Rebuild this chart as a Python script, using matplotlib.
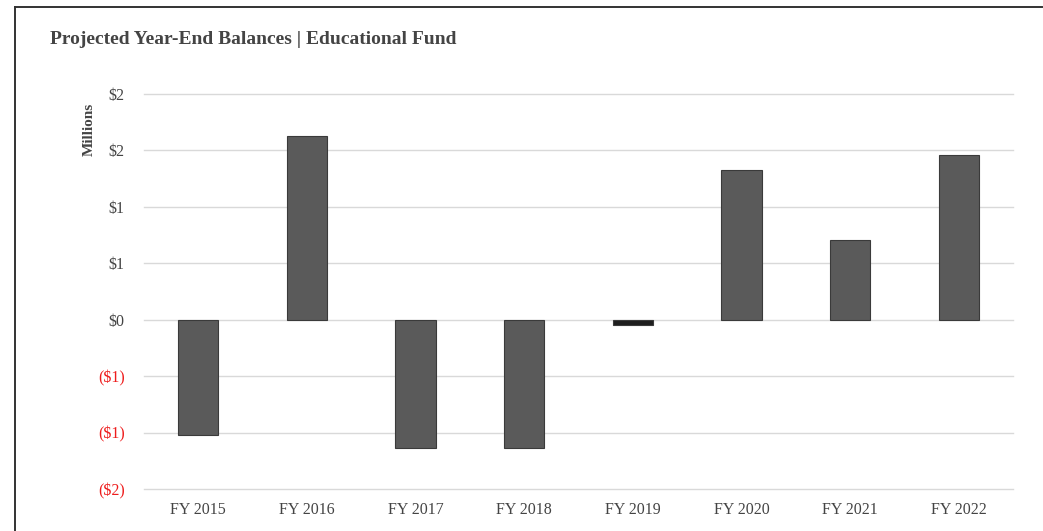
import matplotlib
matplotlib.use("Agg")
import matplotlib.pyplot as plt
from matplotlib.ticker import FuncFormatter, MultipleLocator
from matplotlib.lines import Line2D

# Projected year-end balances, in millions of dollars
fiscal_years = ["FY 2015", "FY 2016", "FY 2017", "FY 2018",
                "FY 2019", "FY 2020", "FY 2021", "FY 2022"]
balances = [-1.02, 1.63, -1.14, -1.14, -0.05, 1.33, 0.71, 1.46]
bar_colors = ["#5a5a5a", "#5a5a5a", "#5a5a5a", "#5a5a5a",
              "#1e1e1e", "#5a5a5a", "#5a5a5a", "#5a5a5a"]

plt.rcParams["font.family"] = ["Liberation Serif", "DejaVu Serif"]

fig = plt.figure(figsize=(10.43, 5.31), dpi=100)
fig.patch.set_facecolor("white")

# Outer frame (left and top edges)
W, H = 1043, 531
fig.add_artist(Line2D([15 / W, 15 / W], [0, 1 - 7 / H], transform=fig.transFigure,
                      color="#333333", lw=1.4))
fig.add_artist(Line2D([15 / W, 1042 / W], [1 - 7 / H, 1 - 7 / H], transform=fig.transFigure,
                      color="#333333", lw=1.4))

ax = fig.add_axes([144 / W, 1 - 489 / H, (1013 - 144) / W, (489 - 94) / H])

x = range(len(fiscal_years))
ax.bar(x, balances, width=0.37, color=bar_colors, edgecolor="#3a3a3a",
       linewidth=0.8, zorder=3)

ax.set_ylim(-1.5, 2.0)
ax.set_xlim(-0.5, len(fiscal_years) - 0.5)
ax.yaxis.set_major_locator(MultipleLocator(0.5))


def money(v, pos):
    r = int(abs(v) + 0.5)
    if v < 0:
        return f"(${r})"
    return f"${r}"


ax.yaxis.set_major_formatter(FuncFormatter(money))

ax.grid(axis="y", color="#d9d9d9", linewidth=1.0, zorder=0)
for gl in ax.get_ygridlines():
    gl.set_clip_on(False)
for s in ax.spines.values():
    s.set_visible(False)
ax.tick_params(axis="both", length=0, labelsize=11.5, colors="#444444")
ax.tick_params(axis="y", pad=14)
ax.tick_params(axis="x", pad=9)
ax.set_xticks(list(x))
ax.set_xticklabels(fiscal_years)

fig.canvas.draw()
for lbl in ax.get_yticklabels():
    if lbl.get_text().startswith("("):
        lbl.set_color("#ee1c1c")

ax.set_ylabel("Millions", fontsize=11, fontweight="bold", color="#444444")
ax.yaxis.set_label_coords(-0.055, 0.91)

fig.text(50 / W, 1 - 39 / H, "Projected Year-End Balances | Educational Fund",
         fontsize=14, fontweight="bold", color="#444444", va="center", ha="left")

fig.savefig("out.png", dpi=100, facecolor="white")
